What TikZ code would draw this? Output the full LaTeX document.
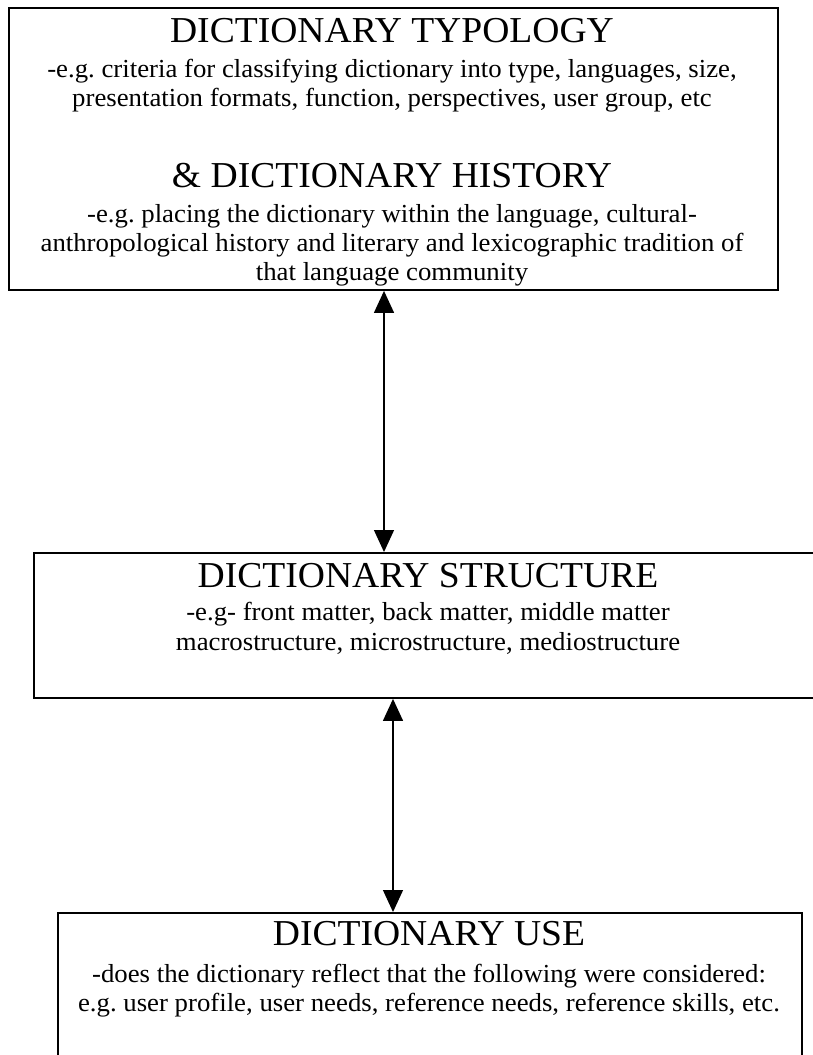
\documentclass[tikz,border=0pt]{standalone}
\usepackage{fontspec}
\setmainfont{Liberation Serif}[FakeStretch=1.03]
\usetikzlibrary{arrows.meta}
\tikzset{
  box/.style={draw, line width=1.9pt, anchor=north west, inner sep=0pt},
  ttl/.style={anchor=base, inner sep=0pt, font=\fontsize{36.5}{40}\selectfont},
  bdy/.style={anchor=base, inner sep=0pt, font=\fontsize{26}{29}\selectfont},
  arr/.style={{Triangle[width=20pt,length=22pt]}-{Triangle[width=20pt,length=22pt]}, line width=1.3pt}
}
\begin{document}
\frenchspacing
\begin{tikzpicture}[x=1pt,y=-1pt]
\useasboundingbox (0,0) rectangle (813,1055);
\clip (0,0) rectangle (813,1055);
% boxes
\node[box, minimum width=769pt, minimum height=282pt] (t) at (8,7) {};
\node[box, minimum width=792pt, minimum height=145pt] (s) at (33,552) {};
\node[box, minimum width=744pt, minimum height=170pt] (u) at (57,912) {};
% box 1 text
\node[ttl] (t1) at (392,42) {DICTIONARY TYPOLOGY};
\node[bdy] (t2) at (392,77) {-e.g. criteria for classifying dictionary into type, languages, size,};
\node[bdy] (t3) at (392,106) {presentation formats, function, perspectives, user group, etc};
\node[ttl] (t4) at (392,187) {\& DICTIONARY HISTORY};
\node[bdy] (t5) at (392,222) {-e.g. placing the dictionary within the language, cultural-};
\node[bdy] (t6) at (392,251) {anthropological history and literary and lexicographic tradition of};
\node[bdy] (t7) at (392,280) {that language community};
% box 2 text
\node[ttl] (s1) at (428,587) {DICTIONARY STRUCTURE};
\node[bdy] (s2) at (428,620) {-e.g- front matter, back matter, middle matter};
\node[bdy] (s3) at (428,650) {macrostructure, microstructure, mediostructure};
% box 3 text
\node[ttl] (u1) at (429,945) {DICTIONARY USE};
\node[bdy] (u2) at (429,982) {-does the dictionary reflect that the following were considered:};
\node[bdy] (u3) at (429,1011) {e.g. user profile, user needs, reference needs, reference skills, etc.};
% connectors
\coordinate (c1) at (384,0);
\coordinate (c2) at (393,0);
\draw[arr] (t.south -| c1) -- (s.north -| c1);
\draw[arr] (s.south -| c2) -- (u.north -| c2);
\end{tikzpicture}
\end{document}
